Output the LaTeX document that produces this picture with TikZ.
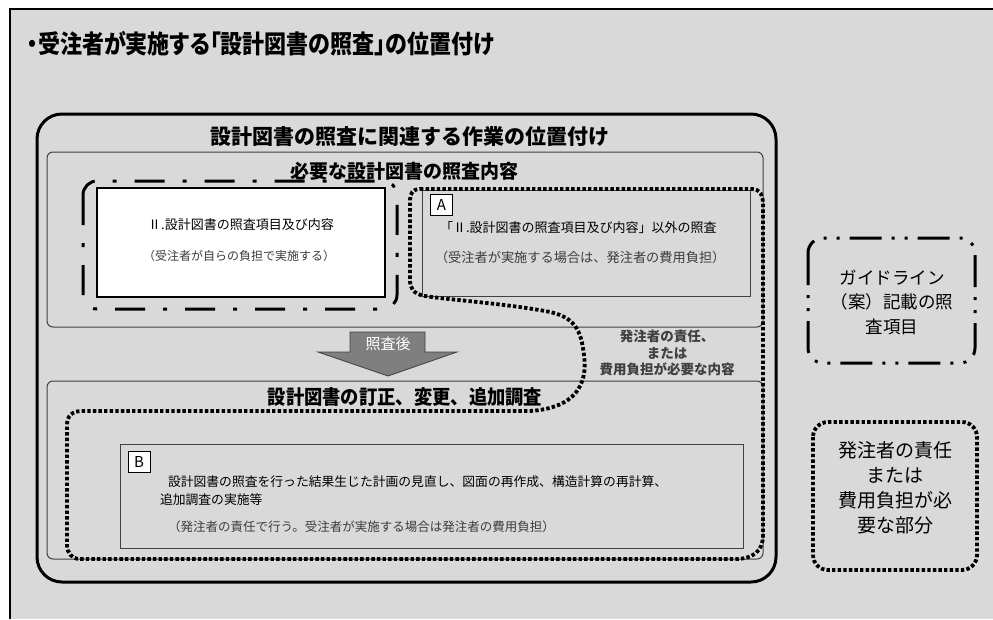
\documentclass[tikz,border=0pt]{standalone}
\usepackage{fontspec}
\setmainfont{Noto Sans CJK JP}
\newfontfamily\paltfont[RawFeature=+palt]{Noto Sans CJK JP}
\newcommand{\myfs}[1]{\fontsize{#1}{#1}\selectfont}
\definecolor{bg}{HTML}{D9D9D9}
\definecolor{edge}{HTML}{404040}
\definecolor{subgray}{HTML}{3C3C3C}
\definecolor{arrowfill}{HTML}{7F7F7F}
\tikzset{
  thickframe/.style={line width=3pt, draw=black},
  thinbox/.style={line width=1pt, draw=edge},
  dotline/.style={line width=3.8pt, draw=black, dash pattern=on 3.4pt off 2.2pt},
  dashdotline/.style={line width=3pt, draw=black, dash pattern=on 30pt off 18pt on 4pt off 18pt},
  dashdotdotline/.style={line width=3pt, draw=black, dash pattern=on 32pt off 10pt on 3pt off 10pt on 3pt off 10pt},
  txt/.style={inner sep=0pt, outer sep=0pt},
  lbl/.style={draw=black, line width=0.8pt, fill=white, minimum width=22pt, minimum height=21pt, inner sep=0pt, font=\myfs{15}},
}
\begin{document}
\begin{tikzpicture}[x=1pt,y=-1pt]
\useasboundingbox (0,0) rectangle (993,619);
\fill[white] (0,0) rectangle (993,619);
\fill[bg] (10,9) rectangle (993,619);
\draw[line width=2.2pt] (10,619) -- (10,9) -- (993,9);

% title
\node[txt, anchor=west, font=\paltfont\bfseries\myfs{22}] (title) at (27,44) {\scalebox{1}[1.15]{・受注者が実施する「設計図書の照査」の位置付け}};

% outer frame and inner boxes
\draw[thickframe, rounded corners=25pt] (37,114) rectangle (776,582);
\draw[thinbox, rounded corners=6pt] (47,152) rectangle (763,327);
\draw[thinbox, rounded corners=6pt] (47,381) rectangle (763,559);

\node[txt, font=\bfseries\myfs{21}] (t1) at (410,137) {設計図書の照査に関連する作業の位置付け};
\node[txt, font=\bfseries\myfs{19}] (t2) at (404,171) {必要な設計図書の照査内容};
\node[txt, font=\bfseries\myfs{18.3}] (t3) at (405,397) {\scalebox{1}[1.08]{設計図書の訂正、変更、追加調査}};

% white box
\draw[fill=white, line width=2.8pt] (97,188) rectangle (385,297);
\node[txt, font=\myfs{13}] (w1) at (241,225) {Ⅱ.設計図書の照査項目及び内容};
\node[txt, text=subgray, font=\myfs{12}] (w2) at (239,256) {（受注者が自らの負担で実施する）};

% box A
\draw[thinbox] (422,190) rectangle (750,296);
\node[lbl] (labA) at (441.5,204.5) {A};
\node[txt, anchor=west, font=\myfs{13}] (a1) at (440,228) {「Ⅱ.設計図書の照査項目及び内容」以外の照査};
\node[txt, anchor=west, text=subgray, font=\myfs{13.2}] (a2) at (435,257) {（受注者が実施する場合は、発注者の費用負担）};

% box B
\draw[thinbox] (120,444) rectangle (743,548);
\node[lbl] (labB) at (139,461.5) {B};
\node[txt, anchor=west, font=\myfs{12.8}] (b1) at (168,482) {設計図書の照査を行った結果生じた計画の見直し、図面の再作成、構造計算の再計算、};
\node[txt, anchor=west, font=\myfs{12.8}] (b2) at (160,500) {追加調査の実施等};
\node[txt, anchor=west, text=subgray, font=\myfs{12.5}] (b3) at (168,527) {（発注者の責任で行う。受注者が実施する場合は発注者の費用負担）};

% arrow
\draw[fill=arrowfill, draw=edge, line width=0.8pt] (350,332) -- (425,332) -- (425,352) -- (457,352) -- (388,376) -- (318,352) -- (350,352) -- cycle;
\node[txt, text=white, font=\myfs{15}] (after) at (388,344) {照査後};

% side note
\node[txt, align=center, text=edge, font=\bfseries\fontsize{13.5}{16.5}\selectfont] (note) at (667,353) {発注者の責任、\\または\\費用負担が必要な内容};

% dotted region
\draw[dotline] (420,189) -- (752,189) .. controls (760,189) and (763,195) .. (763,205)
  -- (763,535) .. controls (763,552) and (752,559) .. (735,559)
  -- (80,559) .. controls (72,559) and (67,553) .. (67,545)
  -- (67,425) .. controls (67,416) and (72,411) .. (82,411)
  -- (530,411) .. controls (575,408) and (588,385) .. (584,355)
  .. controls (581,330) and (575,316) .. (545,311)
  .. controls (500,303) and (450,300) .. (425,296)
  .. controls (413,294) and (410,288) .. (410,280)
  -- (410,200) .. controls (410,193) and (413,189) .. (420,189) -- cycle;

% dash-dot region
\draw[dashdotline, rounded corners=14pt] (83,181) rectangle (397,309);

% legend
\draw[dashdotdotline, rounded corners=15pt] (808,238) rectangle (975,363);
\node[txt, align=center, font=\fontsize{17.5}{24.5}\selectfont] (guide) at (892,302) {ガイドライン\\（案）記載の照\\査項目};
\draw[dotline, rounded corners=15pt] (813,422) rectangle (977,570);
\node[txt, align=center, font=\fontsize{19}{25}\selectfont] (resp) at (895,488) {発注者の責任\\または\\費用負担が必\\要な部分};
\end{tikzpicture}
\end{document}
